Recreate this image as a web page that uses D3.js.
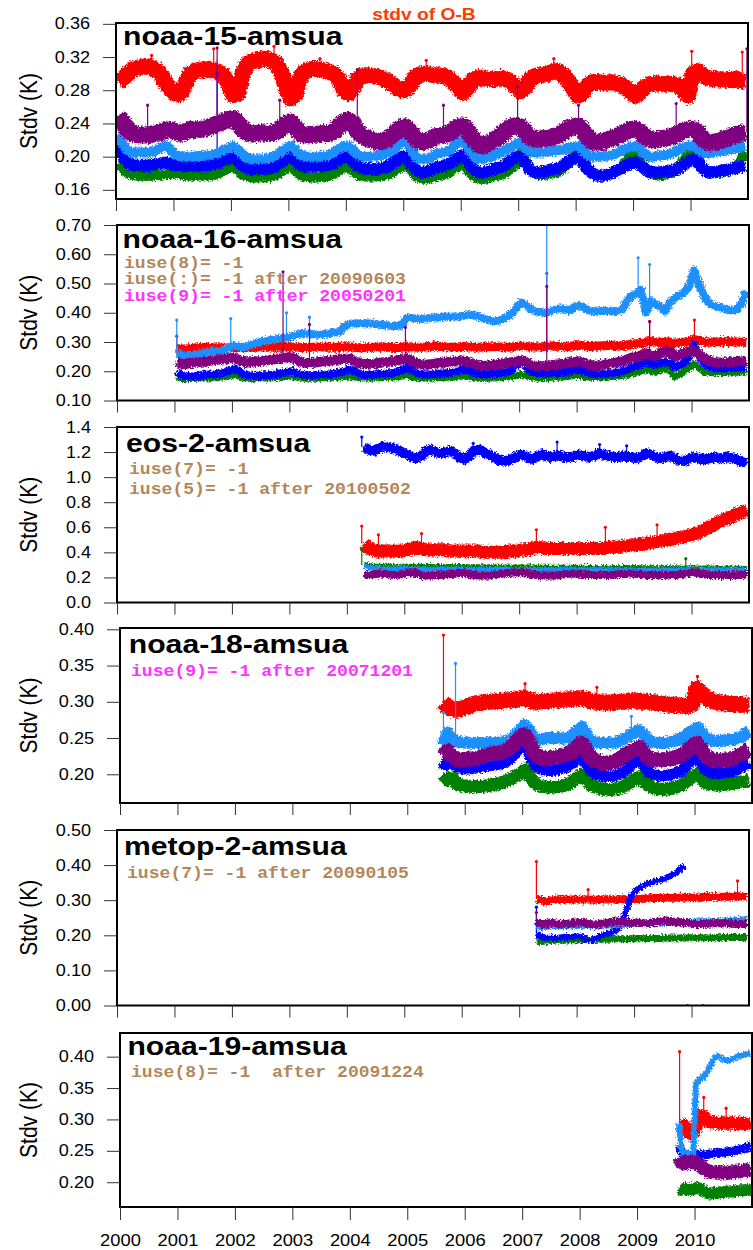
<!DOCTYPE html>
<html>
<head>
<meta charset="utf-8">
<script src="https://cdn.jsdelivr.net/npm/d3@7"></script>
<style>
  body { margin: 0; background: #fff; }
</style>
</head>
<body>
<svg id="chart"></svg>
<script>
// ---- data (monthly / half-monthly estimates) ----
const tickYears = [2000, 2001, 2002, 2003, 2004, 2005, 2006, 2007, 2008, 2009, 2010];
const channels = ["ch5", "ch6", "ch7", "ch8", "ch9"];
const panelNames = ["noaa-15-amsua", "noaa-16-amsua", "eos-2-amsua", "noaa-18-amsua", "metop-2-amsua", "noaa-19-amsua"];
const panelStarts = [2000.04, 2001.04, 2004.30, 2005.62, 2007.30, 2009.73];
const panelSteps = [1 / 12, 1 / 12, 1 / 12, 1 / 12, 1 / 12, 1 / 24];
const yDomains = [[0.149, 0.361], [0.10, 0.70], [0, 1.4], [0.1604, 0.4018], [0, 0.5], [0.1605, 0.4377]];
const yTicks = [
  [0.16, 0.20, 0.24, 0.28, 0.32, 0.36],
  [0.10, 0.20, 0.30, 0.40, 0.50, 0.60, 0.70],
  [0.0, 0.2, 0.4, 0.6, 0.8, 1.0, 1.2, 1.4],
  [0.20, 0.25, 0.30, 0.35, 0.40],
  [0.00, 0.10, 0.20, 0.30, 0.40, 0.50],
  [0.20, 0.25, 0.30, 0.35, 0.40]
];
const yFormats = [".2f", ".2f", ".1f", ".2f", ".2f", ".2f"];

// noaa-15
const n15Ch5 = [
  .290,.294,.300,.305,.307,.308,.309,.307,.304,.298,.288,.280,
  .275,.276,.288,.300,.303,.305,.304,.306,.304,.302,.298,.288,
  .274,.276,.300,.312,.315,.316,.318,.318,.316,.312,.302,.284,
  .270,.275,.295,.303,.305,.306,.305,.304,.302,.300,.294,.282,
  .276,.282,.294,.298,.298,.297,.296,.295,.292,.288,.284,.280,
  .280,.286,.296,.299,.300,.299,.298,.298,.297,.295,.290,.284,
  .277,.282,.292,.295,.294,.294,.293,.294,.295,.293,.290,.284,
  .279,.283,.293,.297,.298,.299,.300,.303,.302,.298,.292,.282,
  .273,.277,.286,.290,.290,.289,.289,.290,.288,.287,.283,.278,
  .273,.278,.284,.287,.288,.288,.287,.288,.287,.286,.280,.273,
  .300,.303,.298,.295,.294,.293,.293,.293,.292,.294,.291,.290];
const n15Ch6 = [
  .192,.185,.180,.178,.177,.177,.177,.177,.178,.178,.179,.179,
  .180,.179,.177,.177,.177,.177,.177,.177,.178,.180,.183,.186,
  .189,.184,.178,.176,.175,.175,.175,.175,.176,.178,.182,.186,
  .188,.183,.178,.176,.175,.175,.175,.176,.177,.179,.183,.186,
  .188,.183,.178,.176,.176,.176,.176,.177,.178,.180,.184,.187,
  .190,.184,.177,.174,.173,.174,.176,.177,.178,.180,.185,.188,
  .190,.184,.177,.174,.173,.174,.176,.177,.178,.181,.186,.190,
  .204,.196,.186,.180,.178,.178,.179,.180,.182,.186,.193,.200,
  .206,.198,.186,.180,.178,.178,.179,.180,.182,.186,.194,.202,
  .205,.196,.185,.180,.178,.177,.178,.180,.182,.187,.195,.203,
  .206,.200,.188,.182,.180,.180,.181,.182,.184,.188,.196,.206];
const n15Ch7 = [
  .215,.200,.193,.190,.189,.189,.189,.190,.191,.192,.193,.191,
  .189,.189,.189,.189,.189,.189,.189,.190,.191,.193,.196,.198,
  .200,.195,.189,.186,.185,.185,.185,.185,.186,.189,.194,.198,
  .201,.196,.190,.188,.188,.188,.188,.189,.190,.192,.196,.199,
  .200,.195,.189,.186,.185,.185,.185,.186,.188,.191,.195,.199,
  .200,.193,.185,.181,.181,.183,.186,.188,.189,.191,.195,.199,
  .202,.195,.186,.181,.181,.182,.184,.186,.187,.190,.195,.199,
  .200,.192,.184,.181,.181,.182,.184,.185,.186,.189,.194,.198,
  .200,.193,.185,.180,.177,.177,.178,.180,.183,.186,.189,.192,
  .193,.190,.185,.182,.181,.181,.182,.183,.184,.186,.190,.194,
  .197,.193,.186,.182,.181,.182,.183,.184,.185,.186,.188,.189];
const n15Ch8 = [
  .228,.215,.207,.205,.205,.205,.205,.206,.208,.211,.213,.208,
  .202,.201,.200,.200,.200,.201,.201,.202,.203,.205,.208,.210,
  .213,.208,.202,.198,.197,.197,.197,.198,.199,.202,.206,.210,
  .213,.208,.202,.200,.200,.200,.200,.201,.202,.205,.209,.212,
  .213,.208,.202,.200,.200,.200,.201,.202,.204,.207,.211,.216,
  .220,.210,.200,.197,.197,.198,.202,.204,.205,.207,.212,.217,
  .220,.212,.202,.197,.197,.198,.200,.203,.205,.208,.212,.215,
  .216,.210,.206,.205,.205,.205,.206,.207,.208,.209,.211,.212,
  .213,.208,.202,.200,.200,.200,.201,.202,.204,.207,.210,.212,
  .213,.209,.203,.200,.200,.201,.202,.203,.205,.208,.211,.213,
  .213,.209,.205,.204,.205,.206,.207,.208,.209,.210,.212,.213];
const n15Ch9 = [
  .250,.240,.232,.228,.226,.226,.226,.227,.228,.230,.232,.232,
  .230,.228,.230,.233,.232,.233,.234,.236,.238,.240,.243,.245,
  .246,.240,.233,.228,.227,.228,.229,.228,.228,.230,.234,.240,
  .242,.236,.228,.226,.226,.227,.227,.228,.228,.230,.236,.242,
  .244,.240,.230,.225,.222,.220,.218,.218,.220,.225,.230,.235,
  .236,.230,.222,.218,.218,.220,.224,.225,.226,.228,.232,.236,
  .237,.232,.222,.215,.213,.215,.218,.222,.226,.232,.236,.237,
  .236,.230,.223,.221,.221,.222,.222,.224,.226,.230,.234,.236,
  .237,.232,.224,.218,.217,.218,.220,.222,.224,.227,.230,.233,
  .233,.230,.224,.221,.220,.221,.222,.223,.225,.228,.231,.233,
  .233,.230,.222,.218,.217,.218,.220,.222,.224,.226,.228,.229];
const n15Spikes = [["ch5", 2000.62, 0.322], ["ch5", 2001.70, 0.330], ["ch5", 2002.75, 0.333], ["ch5", 2003.55, 0.318],
  ["ch5", 2005.40, 0.316], ["ch5", 2007.62, 0.318], ["ch5", 2010.02, 0.327], ["ch5", 2010.90, 0.326],
  ["ch7", 2001.76, 0.300],
  ["ch9", 2000.55, 0.262], ["ch9", 2001.76, 0.331], ["ch9", 2002.85, 0.268], ["ch9", 2004.20, 0.305],
  ["ch9", 2005.70, 0.262], ["ch9", 2006.99, 0.285], ["ch9", 2008.05, 0.262], ["ch9", 2009.75, 0.264],
  ["ch9", 2010.98, 0.330]];

// noaa-16
const n16Ch5 = [
  .278,.276,.276,.278,.280,.281,.281,.281,.280,.280,.279,.280,
  .282,.281,.280,.281,.282,.283,.283,.283,.282,.282,.283,.284,
  .284,.282,.281,.281,.282,.283,.283,.283,.282,.282,.282,.283,
  .284,.282,.280,.280,.281,.282,.283,.283,.282,.281,.281,.282,
  .284,.283,.282,.282,.283,.285,.286,.285,.284,.283,.283,.284,
  .285,.283,.282,.282,.283,.284,.284,.284,.283,.282,.283,.285,
  .287,.285,.283,.283,.284,.285,.286,.286,.285,.284,.285,.287,
  .289,.287,.285,.285,.286,.287,.288,.288,.287,.287,.289,.292,
  .294,.296,.300,.302,.300,.298,.302,.300,.296,.298,.300,.303,
  .308,.306,.302,.300,.300,.301,.302,.302,.301,.300,.299,.298];
const n16Ch6 = [
  .180,.175,.174,.175,.176,.177,.177,.178,.178,.179,.181,.184,
  .188,.183,.178,.176,.176,.176,.177,.177,.178,.179,.181,.183,
  .184,.180,.177,.176,.176,.176,.177,.177,.178,.179,.180,.182,
  .184,.181,.178,.177,.177,.177,.178,.178,.179,.180,.181,.183,
  .186,.182,.178,.176,.176,.177,.178,.178,.179,.180,.181,.183,
  .184,.181,.178,.176,.176,.177,.177,.178,.179,.180,.182,.185,
  .190,.184,.180,.178,.178,.178,.179,.180,.180,.181,.183,.185,
  .186,.183,.180,.179,.179,.180,.181,.182,.183,.185,.188,.192,
  .196,.200,.206,.202,.196,.205,.212,.205,.182,.190,.200,.212,
  .225,.212,.200,.196,.195,.195,.196,.196,.197,.197,.198,.198];
const n16Ch7 = [
  .198,.186,.182,.182,.184,.186,.188,.189,.190,.192,.196,.202,
  .210,.200,.190,.186,.185,.185,.186,.187,.188,.190,.194,.198,
  .200,.194,.188,.186,.186,.187,.188,.189,.190,.192,.196,.200,
  .208,.200,.192,.188,.188,.189,.190,.191,.192,.194,.198,.204,
  .212,.204,.195,.190,.189,.190,.191,.192,.193,.195,.198,.202,
  .206,.200,.194,.191,.190,.191,.193,.194,.195,.198,.205,.220,
  .238,.215,.200,.194,.192,.192,.193,.194,.195,.197,.200,.204,
  .206,.200,.194,.191,.190,.190,.192,.194,.196,.200,.206,.212,
  .218,.225,.232,.226,.222,.228,.232,.226,.215,.220,.230,.250,
  .290,.255,.232,.218,.212,.210,.210,.211,.212,.213,.214,.215];
const n16Ch8 = [
  .265,.255,.252,.255,.258,.262,.265,.268,.268,.270,.274,.280,
  .288,.285,.283,.286,.292,.298,.302,.306,.308,.310,.313,.316,
  .320,.324,.328,.330,.328,.325,.326,.328,.330,.332,.334,.352,
  .362,.363,.364,.364,.363,.362,.360,.358,.356,.355,.355,.356,
  .382,.382,.380,.379,.380,.382,.384,.385,.386,.386,.387,.388,
  .390,.392,.392,.388,.380,.376,.372,.372,.378,.386,.398,.418,
  .435,.425,.412,.404,.402,.400,.404,.412,.415,.412,.408,.418,
  .426,.418,.408,.405,.405,.406,.406,.407,.406,.410,.440,.458,
  .465,.478,.400,.440,.430,.420,.405,.435,.450,.460,.470,.490,
  .545,.500,.460,.435,.425,.420,.415,.410,.408,.412,.430,.475];
const n16Ch9 = [
  .232,.226,.225,.228,.230,.232,.234,.236,.238,.240,.242,.244,
  .246,.238,.232,.230,.232,.234,.236,.238,.240,.242,.245,.248,
  .248,.240,.232,.228,.228,.230,.232,.234,.236,.238,.241,.243,
  .244,.236,.228,.225,.225,.226,.228,.230,.232,.234,.237,.240,
  .243,.236,.228,.224,.222,.224,.226,.228,.230,.232,.234,.236,
  .236,.230,.224,.220,.219,.220,.222,.224,.226,.228,.231,.234,
  .238,.230,.222,.218,.217,.218,.220,.222,.224,.226,.229,.232,
  .234,.228,.222,.220,.220,.222,.225,.228,.230,.234,.240,.246,
  .250,.256,.262,.255,.250,.262,.270,.268,.250,.256,.262,.268,
  .272,.262,.245,.236,.232,.230,.230,.231,.232,.233,.234,.236];
const n16Spikes = [["ch5", 2001.04, 0.320], ["ch5", 2007.48, 0.535], ["ch5", 2009.27, 0.370], ["ch5", 2010.05, 0.375],
  ["ch6", 2009.55, 0.270],
  ["ch8", 2001.04, 0.375], ["ch8", 2001.98, 0.380], ["ch8", 2002.95, 0.400], ["ch8", 2003.35, 0.385],
  ["ch8", 2007.48, 0.700], ["ch8", 2009.07, 0.588], ["ch8", 2009.27, 0.565],
  ["ch9", 2002.89, 0.540], ["ch9", 2003.35, 0.360], ["ch9", 2005.02, 0.350], ["ch9", 2007.48, 0.490], ["ch9", 2009.27, 0.370]];

// eos-2
const eosCh5 = [
  .47,.43,.42,.41,.41,.41,.41,.41,.41,
  .42,.43,.44,.43,.42,.42,.42,.42,.42,.41,.41,.41,
  .41,.41,.41,.41,.40,.40,.40,.40,.40,.41,.41,.41,
  .42,.42,.43,.44,.44,.43,.43,.43,.43,.43,.43,.43,
  .43,.43,.43,.43,.43,.43,.44,.44,.44,.45,.45,.46,
  .46,.465,.47,.48,.485,.49,.50,.505,.51,.52,.525,.535,
  .545,.56,.58,.60,.62,.64,.66,.67,.69,.71,.72,.74];
const eosCh6 = [
  .30,.295,.292,.29,.29,.29,.29,.29,.29,
  .29,.29,.29,.29,.288,.288,.288,.288,.287,.287,.287,.287,
  .287,.286,.286,.286,.285,.285,.285,.284,.284,.284,.284,.284,
  .284,.283,.283,.283,.283,.282,.282,.282,.282,.281,.281,.281,
  .281,.281,.280,.280,.280,.280,.280,.279,.279,.279,.279,.279,
  .279,.278,.278,.278,.278,.277,.277,.277,.277,.276,.276,.276,
  .276,.276,.275,.275,.275,.274,.274,.274,.273,.273,.273,.272];
const eosCh7 = [
  1.24,1.22,1.21,1.23,1.245,1.24,1.23,1.22,1.20,
  1.18,1.16,1.15,1.17,1.21,1.22,1.20,1.19,1.20,1.21,1.19,1.16,
  1.14,1.17,1.21,1.22,1.20,1.18,1.16,1.14,1.13,1.13,1.15,1.17,
  1.18,1.16,1.14,1.16,1.18,1.17,1.16,1.17,1.17,1.16,1.16,1.17,
  1.18,1.17,1.16,1.17,1.19,1.18,1.17,1.16,1.16,1.17,1.16,1.16,
  1.15,1.17,1.19,1.18,1.16,1.15,1.16,1.17,1.15,1.13,1.13,1.15,
  1.16,1.15,1.14,1.15,1.16,1.15,1.15,1.16,1.15,1.14,1.12,1.11];
const eosCh8 = [
  .29,.28,.275,.272,.272,.27,.27,.27,.27,
  .27,.268,.268,.268,.268,.267,.267,.267,.267,.266,.266,.266,
  .266,.265,.265,.265,.265,.264,.264,.264,.264,.264,.263,.263,
  .263,.263,.263,.262,.262,.262,.262,.262,.262,.262,.261,.261,
  .261,.261,.261,.261,.26,.26,.26,.26,.26,.26,.26,.26,
  .26,.26,.26,.26,.26,.26,.26,.26,.26,.26,.26,.26,
  .26,.26,.26,.26,.26,.26,.26,.26,.26,.26,.26,.26];
const eosCh9 = [
  .22,.22,.225,.23,.23,.225,.22,.22,.225,
  .235,.24,.23,.22,.215,.215,.22,.22,.22,.225,.23,.235,
  .235,.225,.22,.215,.215,.215,.22,.225,.23,.235,.24,.24,
  .24,.235,.225,.22,.215,.215,.215,.215,.22,.225,.23,.23,
  .23,.225,.22,.22,.22,.22,.22,.22,.225,.225,.23,.23,
  .23,.225,.22,.22,.22,.22,.22,.22,.22,.225,.23,.235,
  .24,.235,.225,.22,.22,.22,.22,.22,.22,.22,.225,.225];
const eosSpikes = [["ch5", 2004.26, 0.61], ["ch5", 2004.55, 0.54], ["ch5", 2005.30, 0.55], ["ch5", 2007.30, 0.58],
  ["ch5", 2008.50, 0.60], ["ch5", 2009.40, 0.62],
  ["ch6", 2004.26, 0.42], ["ch6", 2009.90, 0.35],
  ["ch7", 2004.26, 1.32], ["ch7", 2006.20, 1.27], ["ch7", 2007.66, 1.28], ["ch7", 2008.40, 1.26], ["ch7", 2008.87, 1.25]];

// noaa-18
const n18Ch5 = [
  .300,.294,.290,.289,.291,
  .293,.296,.298,.299,.300,.300,.301,.301,.302,.302,.303,.304,
  .306,.303,.300,.300,.301,.301,.302,.302,.303,.303,.304,.305,
  .305,.303,.301,.300,.299,.299,.299,.300,.300,.300,.301,.302,
  .301,.300,.300,.299,.298,.297,.296,.296,.295,.295,.294,.296,
  .318,.312,.306,.302,.300,.299,.298,.297,.297,.296,.296,.296];
const n18Ch6 = [
  .187,.194,.195,.186,.184,
  .184,.183,.183,.183,.184,.185,.186,.188,.190,.193,.197,.201,
  .206,.198,.189,.185,.183,.182,.182,.183,.184,.186,.190,.195,
  .200,.192,.185,.182,.180,.179,.179,.180,.181,.184,.188,.193,
  .196,.190,.184,.181,.180,.179,.180,.181,.183,.186,.191,.196,
  .200,.194,.188,.186,.185,.185,.186,.187,.188,.189,.190,.191];
const n18Ch7 = [
  .206,.222,.214,.210,.208,
  .207,.208,.209,.210,.211,.212,.213,.214,.216,.220,.228,.236,
  .243,.228,.214,.208,.206,.205,.205,.206,.208,.210,.214,.220,
  .226,.214,.204,.200,.198,.197,.197,.198,.200,.204,.210,.216,
  .220,.212,.202,.199,.198,.198,.199,.200,.202,.206,.212,.218,
  .224,.214,.205,.202,.201,.201,.202,.203,.205,.208,.212,.216];
const n18Ch8 = [
  .240,.258,.248,.245,.244,
  .244,.243,.243,.243,.243,.243,.243,.244,.245,.247,.252,.260,
  .268,.262,.250,.248,.249,.250,.250,.250,.249,.250,.254,.260,
  .266,.255,.246,.244,.243,.243,.243,.244,.246,.249,.254,.258,
  .261,.254,.247,.244,.243,.243,.244,.245,.247,.250,.255,.260,
  .265,.258,.250,.247,.246,.246,.247,.248,.249,.251,.255,.260];
const n18Ch9 = [
  .225,.232,.224,.220,.220,
  .221,.221,.222,.224,.226,.228,.229,.230,.232,.236,.242,.250,
  .255,.245,.230,.224,.222,.222,.223,.224,.226,.228,.232,.238,
  .243,.232,.222,.218,.216,.215,.216,.218,.222,.226,.230,.234,
  .237,.230,.222,.220,.220,.220,.221,.222,.224,.227,.232,.238,
  .243,.234,.224,.220,.219,.219,.220,.221,.223,.226,.230,.234];
const n18Spikes = [["ch5", 2005.63, 0.392], ["ch5", 2007.05, 0.325], ["ch5", 2008.30, 0.320], ["ch5", 2010.05, 0.335],
  ["ch8", 2005.63, 0.285], ["ch8", 2005.84, 0.353], ["ch8", 2008.90, 0.280]];

// metop-2
const metCh5 = [
  .304,.300,.296,.300,.302,.302,.301,.302,.302,
  .302,.302,.302,.301,.302,.303,.302,.302,.302,.303,.303,.303,
  .303,.304,.305,.306,.306,.306,.307,.307,.307,.307,.308,.308,
  .308,.308,.309,.309,.309,.310,.310,.310,.310,.311,.311,.311];
const metCh6 = [
  .182,.182,.184,.185,.186,.186,.186,.187,.187,
  .188,.188,.188,.188,.189,.189,.189,.190,.190,.190,.190,.190,
  .190,.190,.191,.191,.191,.191,.192,.192,.192,.192,.192,.193,
  .193,.193,.193,.193,.193,.193,.194,.194,.194,.194,.194,.194];
const metCh7 = [
  .205,.196,.194,.193,.192,.194,.196,.195,.196,
  .197,.192,.185,.188,.195,.200,.205,.210,.216,.240,.280,.318,
  .330,.338,.345,.350,.354,.358,.363,.369,.377,.387,.398];
const metCh8 = [
  .228,.222,.224,.226,.226,.226,.226,.226,.226,
  .227,.227,.226,.226,.226,.227,.228,.229,.230,.230,.231,.231,
  .232,.232,.232,.233,.234,.235,.236,.237,.237,.237,.238,.238,
  .239,.239,.240,.240,.241,.241,.242,.242,.243,.244,.245,.247];
const metCh9 = [
  .240,.232,.232,.236,.234,.233,.232,.234,.236,
  .237,.235,.232,.231,.232,.234,.236,.238,.240,.238,.236,.236,
  .236,.235,.234,.236,.238,.240,.242,.240,.238,.237,.236,.234,
  .232,.232,.232,.233,.234,.234,.234,.234,.233,.232,.232,.232];
const metSpikes = [["ch5", 2007.30, 0.410], ["ch5", 2008.20, 0.330], ["ch5", 2010.80, 0.355],
  ["ch7", 2007.30, 0.280], ["ch9", 2007.30, 0.265]];
const metLowDots = [[2009.93, 0.0], [2010.20, 0.0]];

// noaa-19 (half-monthly)
const n19Ch5 = [.293,.290,.291,.286,.279,.277,.279,.286,.298,.306,.305,.300,.297,.296,.296,.295,
  .295,.294,.295,.294,.294,.294,.295,.294,.293,.294,.294,.293,.294,.293,.294];
const n19Ch6 = [.190,.188,.189,.190,.189,.188,.189,.190,.191,.189,.186,.184,.183,.182,.182,.183,
  .183,.184,.184,.184,.185,.185,.185,.186,.186,.186,.187,.187,.187,.188,.188];
const n19Ch7 = [.258,.248,.245,.244,.243,.243,.244,.245,.244,.243,.243,.244,.244,.245,.245,.246,
  .246,.247,.247,.248,.248,.249,.249,.250,.251,.252,.253,.254,.255,.256,.257];
const n19Ch8 = [.294,.250,.246,.247,.245,.244,.246,.355,.362,.365,.367,.372,.378,.385,.392,.398,
  .401,.400,.397,.395,.394,.395,.396,.397,.399,.401,.402,.403,.404,.405,.405];
const n19Ch9 = [.240,.232,.230,.231,.232,.233,.232,.231,.229,.226,.223,.220,.218,.217,.216,.216,
  .215,.215,.216,.216,.215,.215,.216,.216,.217,.217,.218,.218,.219,.219,.220];
const n19Spikes = [["ch5", 2009.74, 0.408], ["ch5", 2010.16, 0.335], ["ch5", 2010.55, 0.318]];

// annotations
const n16Notes = ["iuse(8)= -1", "iuse(:)= -1 after 20090603", "iuse(9)= -1 after 20050201"];
const eosNotes = ["iuse(7)= -1", "iuse(5)= -1 after 20100502"];
const n18Notes = ["iuse(9)= -1 after 20071201"];
const metNotes = ["iuse(7)= -1 after 20090105"];
const n19Notes = ["iuse(8)= -1  after 20091224"];

// ---- tables built from the arrays above ----
const panelSeries = [
  { ch5: n15Ch5, ch6: n15Ch6, ch7: n15Ch7, ch8: n15Ch8, ch9: n15Ch9 },
  { ch5: n16Ch5, ch6: n16Ch6, ch7: n16Ch7, ch8: n16Ch8, ch9: n16Ch9 },
  { ch5: eosCh5, ch6: eosCh6, ch7: eosCh7, ch8: eosCh8, ch9: eosCh9 },
  { ch5: n18Ch5, ch6: n18Ch6, ch7: n18Ch7, ch8: n18Ch8, ch9: n18Ch9 },
  { ch5: metCh5, ch6: metCh6, ch7: metCh7, ch8: metCh8, ch9: metCh9 },
  { ch5: n19Ch5, ch6: n19Ch6, ch7: n19Ch7, ch8: n19Ch8, ch9: n19Ch9 }
];
const panelSpikes = [n15Spikes, n16Spikes, eosSpikes, n18Spikes, metSpikes, n19Spikes];
const panelNotes = [[], n16Notes, eosNotes, n18Notes, metNotes, n19Notes];

// ---- layout and style ----
const W = 753, H = 1250;
const chColor = { ch5: "#ff0000", ch6: "#008000", ch7: "#0000ff", ch8: "#1e90ff", ch9: "#800080" };
const tan = "#b3875a", magenta = "#ff33ff";
const frames = [
  { x0: 116, x1: 748, y0: 23, y1: 199 },
  { x0: 117, x1: 749, y0: 225, y1: 400.5 },
  { x0: 117, x1: 749, y0: 427, y1: 602.5 },
  { x0: 120, x1: 752, y0: 628, y1: 803 },
  { x0: 117, x1: 749, y0: 830, y1: 1005.5 },
  { x0: 120, x1: 752, y0: 1033, y1: 1207 }
];
const titlePos = [[123, 45], [122.6, 248.3], [126, 451.7], [128.8, 652.7], [124, 855], [127.4, 1055]];
const notePos = [[], [[124, 267.7], [124, 284.2], [124, 300.7]], [[129, 473.5], [129, 494.3]],
  [[131, 676]], [[127, 878]], [[131, 1077]]];
const noteColors = [[], [tan, tan, magenta], [tan, tan], [magenta], [tan], [tan]];
const bandWidth = [
  { ch5: 16, ch6: 10, ch7: 12, ch8: 10, ch9: 17 },
  { ch5: 9, ch6: 7, ch7: 8, ch8: 8, ch9: 10 },
  { ch5: 13, ch6: 5, ch7: 10, ch8: 5, ch9: 8 },
  { ch5: 16, ch6: 13, ch7: 11, ch8: 12, ch9: 15 },
  { ch5: 8, ch6: 7, ch7: 6, ch8: 6, ch9: 8 },
  { ch5: 13, ch6: 12, ch7: 9, ch8: 6, ch9: 14 }
];
const sansFont = "'Liberation Sans', Arial, Helvetica, sans-serif";
const monoFont = "'Liberation Mono', 'Courier New', monospace";
const sx = 1.13; // the reference is slightly stretched horizontally

const svg = d3.select("#chart").attr("width", W).attr("height", H);
const defs = svg.append("defs");

// rough edges so the bands look like dense daily noise
const rough = defs.append("filter").attr("id", "rough")
  .attr("filterUnits", "userSpaceOnUse")
  .attr("x", 0).attr("y", 0).attr("width", W).attr("height", H);
rough.append("feTurbulence").attr("type", "fractalNoise")
  .attr("baseFrequency", 0.6).attr("numOctaves", 2).attr("seed", 4).attr("result", "noise");
rough.append("feDisplacementMap").attr("in", "SourceGraphic").attr("in2", "noise")
  .attr("scale", 6).attr("xChannelSelector", "R").attr("yChannelSelector", "G");

// main title
svg.append("text")
  .attr("transform", `translate(424,20) scale(1.2,1)`)
  .attr("text-anchor", "middle")
  .attr("font-family", sansFont).attr("font-weight", "bold").attr("font-size", 16)
  .attr("fill", "#ff3c00")
  .text("stdv of O-B");

panelNames.forEach((name, p) => {
  const f = frames[p];
  const x = d3.scaleLinear().domain([2000, 2011]).range([f.x0, f.x1]);
  const y = d3.scaleLinear().domain(yDomains[p]).range([f.y1, f.y0]);
  const start = panelStarts[p], step = panelSteps[p];
  const g = svg.append("g");

  defs.append("clipPath").attr("id", "clip" + p)
    .append("rect").attr("x", f.x0).attr("y", f.y0)
    .attr("width", f.x1 - f.x0).attr("height", f.y1 - f.y0);
  const plot = g.append("g").attr("clip-path", `url(#clip${p})`);

  const line = d3.line()
    .x((d, i) => x(start + i * step))
    .y(d => y(d));

  channels.forEach(ch => {
    const vals = panelSeries[p][ch];
    plot.append("path")
      .datum(vals)
      .attr("d", line)
      .attr("fill", "none")
      .attr("stroke", chColor[ch])
      .attr("stroke-width", bandWidth[p][ch])
      .attr("stroke-linejoin", "round")
      .attr("stroke-linecap", "butt")
      .attr("filter", "url(#rough)");

    // outliers: thin spikes with a dot on top
    panelSpikes[p].filter(s => s[0] === ch).forEach(s => {
      const idx = Math.max(0, Math.min(vals.length - 1, Math.round((s[1] - start) / step)));
      plot.append("line")
        .attr("x1", x(s[1])).attr("x2", x(s[1]))
        .attr("y1", y(vals[idx])).attr("y2", y(s[2]))
        .attr("stroke", chColor[ch]).attr("stroke-width", 1.2);
      plot.append("circle")
        .attr("cx", x(s[1])).attr("cy", y(s[2])).attr("r", 1.6)
        .attr("fill", chColor[ch]);
    });
  });

  if (p === 4) {
    plot.selectAll("circle.low").data(metLowDots).join("circle")
      .attr("class", "low")
      .attr("cx", d => x(d[0])).attr("cy", d => y(d[1])).attr("r", 1.5)
      .attr("fill", chColor.ch7);
  }

  // frame
  g.append("rect")
    .attr("x", f.x0).attr("y", f.y0)
    .attr("width", f.x1 - f.x0).attr("height", f.y1 - f.y0)
    .attr("fill", "none").attr("stroke", "#000").attr("stroke-width", 2);

  // y axis
  const yg = g.append("g")
    .attr("transform", `translate(${f.x0},0)`)
    .call(d3.axisLeft(y).tickValues(yTicks[p]).tickFormat(d3.format(yFormats[p]))
      .tickSize(13).tickPadding(10));
  yg.select(".domain").remove();
  yg.selectAll(".tick line").attr("stroke", "#333");
  yg.selectAll(".tick text")
    .attr("font-family", sansFont).attr("font-size", 16).attr("fill", "#000")
    .attr("transform", `scale(${sx},1)`);

  // x axis (labels only under the last panel)
  const last = p === panelNames.length - 1;
  const xg = g.append("g")
    .attr("transform", `translate(0,${f.y1})`)
    .call(d3.axisBottom(x).tickValues(tickYears)
      .tickFormat(last ? d3.format("d") : () => "")
      .tickSize(last ? 13 : 12).tickPadding(14));
  xg.select(".domain").remove();
  xg.selectAll(".tick line").attr("stroke", "#333");
  xg.selectAll(".tick text")
    .attr("font-family", sansFont).attr("font-size", 17).attr("fill", "#000")
    .attr("transform", `scale(1.08,1)`);

  // y label
  g.append("text")
    .attr("transform", `translate(36.5,${(f.y0 + f.y1) / 2}) scale(${sx},1) rotate(-90)`)
    .attr("text-anchor", "middle")
    .attr("font-family", sansFont).attr("font-size", 21).attr("fill", "#000")
    .text("Stdv (K)");

  // panel title
  g.append("text")
    .attr("transform", `translate(${titlePos[p][0]},${titlePos[p][1]}) scale(1.16,1)`)
    .attr("font-family", sansFont).attr("font-weight", "bold").attr("font-size", 26)
    .attr("fill", "#000")
    .text(name);

  // iuse notes
  panelNotes[p].forEach((t, k) => {
    g.append("text")
      .attr("transform", `translate(${notePos[p][k][0]},${notePos[p][k][1]}) scale(${sx},1)`)
      .attr("font-family", monoFont).attr("font-weight", "bold").attr("font-size", 16)
      .attr("fill", noteColors[p][k])
      .style("white-space", "pre")
      .text(t);
  });
});
</script>
</body>
</html>
